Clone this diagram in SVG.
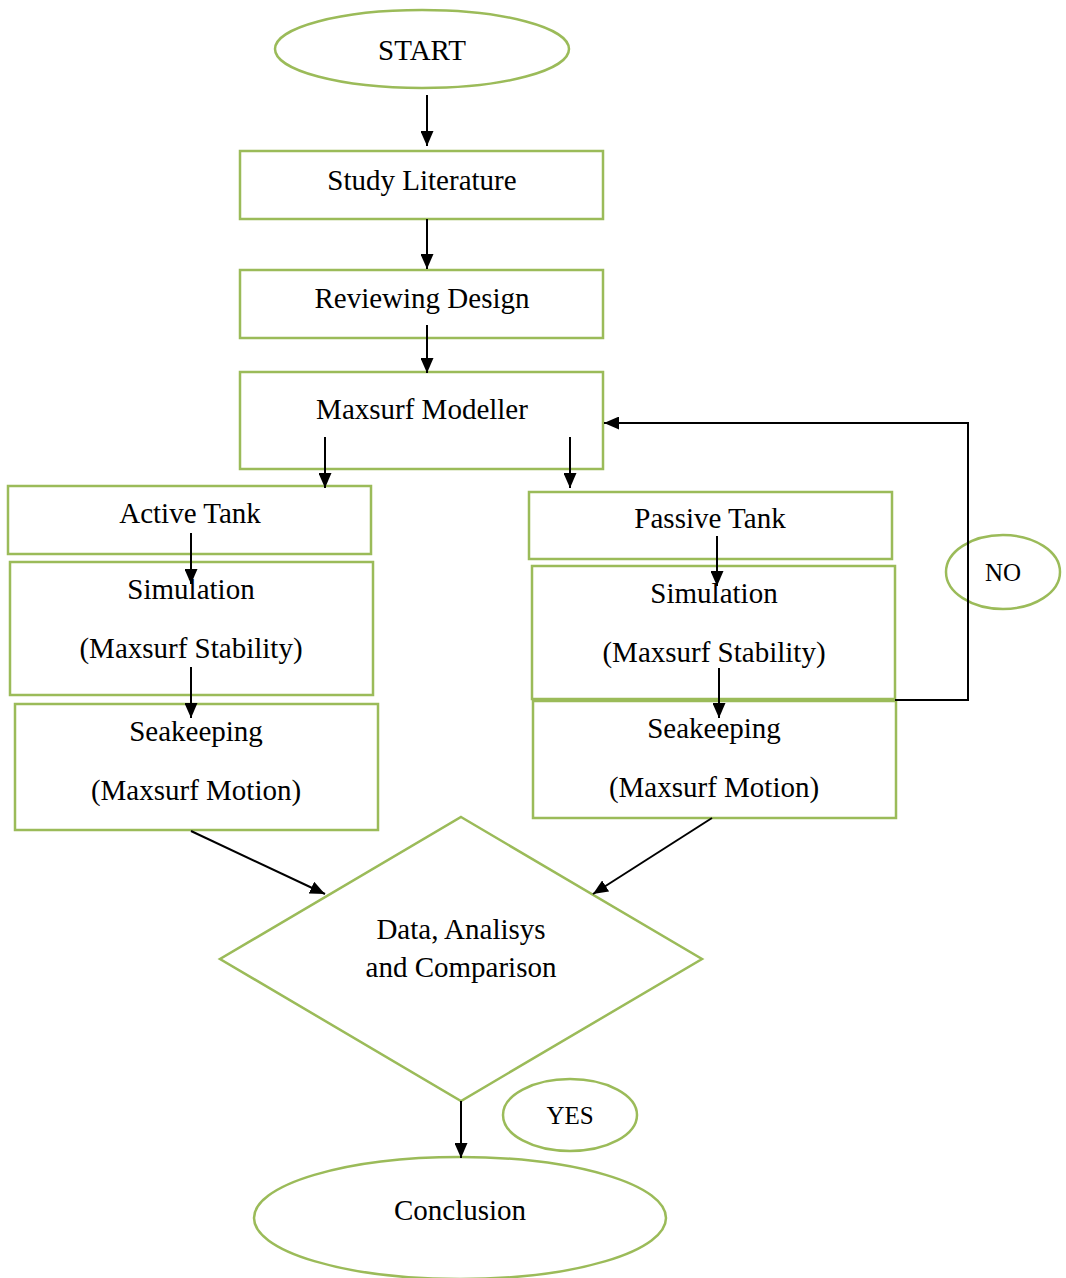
<svg xmlns="http://www.w3.org/2000/svg" width="1066" height="1278" viewBox="0 0 1066 1278">
<style>
.n{fill:#fff;stroke:#9BBB59;stroke-width:2.5}
.t{font-family:'Liberation Serif','Times New Roman',Times,'DejaVu Serif',serif;font-size:29px;fill:#000;text-anchor:middle}
.s{font-size:25px}
.c{fill:none;stroke:#000;stroke-width:2}
</style>
<defs>
<marker id="ah2" viewBox="0 0 15 13" refX="15" refY="6.5" markerWidth="15" markerHeight="13" markerUnits="userSpaceOnUse" orient="auto">
<path d="M0,0 L15,6.5 L0,13 z" fill="#000"/>
</marker>
</defs>
<rect width="1066" height="1278" fill="#fff"/>
<g id="start"><ellipse class="n" cx="422" cy="49" rx="147" ry="39"/><text class="t" x="422" y="60">START</text></g>
<g id="study"><rect class="n" x="240" y="151" width="363" height="68"/><text class="t" x="422" y="190">Study Literature</text></g>
<g id="review"><rect class="n" x="240" y="270" width="363" height="68"/><text class="t" x="422" y="308">Reviewing Design</text></g>
<g id="modeller"><rect class="n" x="240" y="372" width="363" height="97"/><text class="t" x="422" y="419">Maxsurf Modeller</text></g>
<g id="active"><rect class="n" x="8" y="486" width="363" height="68"/><text class="t" x="190" y="523">Active Tank</text></g>
<g id="sim1"><rect class="n" x="10" y="562" width="363" height="133"/><text class="t" x="191" y="599">Simulation</text><text class="t" x="191" y="658">(Maxsurf Stability)</text></g>
<g id="sea1"><rect class="n" x="15" y="704" width="363" height="126"/><text class="t" x="196" y="741">Seakeeping</text><text class="t" x="196" y="800">(Maxsurf Motion)</text></g>
<g id="passive"><rect class="n" x="529" y="492" width="363" height="67"/><text class="t" x="710" y="528">Passive Tank</text></g>
<g id="sea2"><rect class="n" x="533" y="701" width="363" height="117"/><text class="t" x="714" y="738">Seakeeping</text><text class="t" x="714" y="797">(Maxsurf Motion)</text></g>
<g id="sim2"><rect class="n" x="532" y="566" width="363" height="133"/><text class="t" x="714" y="603">Simulation</text><text class="t" x="714" y="662">(Maxsurf Stability)</text></g>
<g id="no"><ellipse class="n" cx="1003" cy="572" rx="57" ry="37"/><text class="t s" x="1003" y="581">NO</text></g>
<g id="decision"><polygon class="n" points="461,817 702,959 461,1101 220,959"/><text class="t" x="461" y="939">Data, Analisys</text><text class="t" x="461" y="977">and Comparison</text></g>
<g id="yes"><ellipse class="n" cx="570" cy="1115" rx="67" ry="36"/><text class="t s" x="570" y="1124">YES</text></g>
<g id="conclusion"><ellipse class="n" cx="460" cy="1218" rx="206" ry="61"/><text class="t" x="460" y="1220">Conclusion</text></g>
<g id="connectors">
<line class="c" x1="427" y1="95" x2="427" y2="146" marker-end="url(#ah2)"/>
<line class="c" x1="427" y1="219" x2="427" y2="269" marker-end="url(#ah2)"/>
<line class="c" x1="427" y1="325" x2="427" y2="373" marker-end="url(#ah2)"/>
<line class="c" x1="325" y1="437" x2="325" y2="488" marker-end="url(#ah2)"/>
<line class="c" x1="570" y1="437" x2="570" y2="488" marker-end="url(#ah2)"/>
<line class="c" x1="191" y1="533" x2="191" y2="584" marker-end="url(#ah2)"/>
<line class="c" x1="191" y1="667" x2="191" y2="718" marker-end="url(#ah2)"/>
<line class="c" x1="717" y1="536" x2="717" y2="586" marker-end="url(#ah2)"/>
<line class="c" x1="719" y1="668" x2="719" y2="718" marker-end="url(#ah2)"/>
<polyline class="c" points="895,700 968,700 968,423 604,423" marker-end="url(#ah2)"/>
<line class="c" x1="191" y1="831" x2="325" y2="894" marker-end="url(#ah2)"/>
<line class="c" x1="712" y1="818" x2="593" y2="894" marker-end="url(#ah2)"/>
<line class="c" x1="461" y1="1101" x2="461" y2="1158" marker-end="url(#ah2)"/>
</g>
</svg>
